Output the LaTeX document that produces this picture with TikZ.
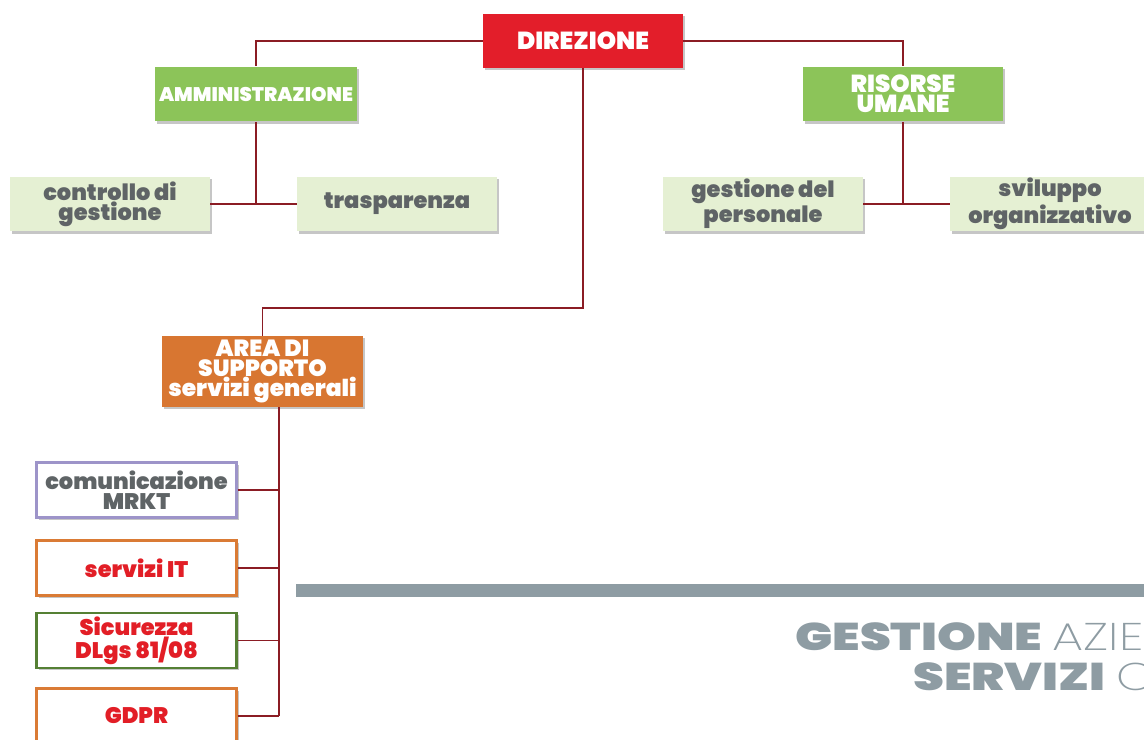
\documentclass[tikz,border=0pt]{standalone}
\usepackage{fontspec}
\setmainfont{Poppins}
\newfontfamily\heavy{Poppins Black}
\newfontfamily\heavywide{Poppins Black}[FakeStretch=1.28]
\newfontfamily\thinwide{Poppins ExtraLight}[FakeStretch=1.28]
\usetikzlibrary{shadows}

\definecolor{dirred}{HTML}{E31E2A}
\definecolor{leafgreen}{HTML}{8CC459}
\definecolor{palegreen}{HTML}{E5F0D3}
\definecolor{areaorange}{HTML}{D87631}
\definecolor{linkred}{HTML}{8B1C24}
\definecolor{textgray}{HTML}{5F6466}
\definecolor{titlegray}{HTML}{8E9CA3}
\definecolor{mrktviolet}{HTML}{9D94C9}
\definecolor{itorange}{HTML}{DA7B35}
\definecolor{safegreen}{HTML}{558034}
\definecolor{alertred}{HTML}{E21E26}

\tikzset{
  box/.style={minimum width=4cm, minimum height=1.1cm, inner sep=1pt, align=center,
    font=\heavy\fontsize{12.8}{11.4}\selectfont,
    drop shadow={shadow xshift=1.2pt, shadow yshift=-1.2pt, opacity=0.45}},
  headbox/.style={box, fill=#1, text=white},
  unitbox/.style={box, fill=palegreen, text=textgray},
  staffbox/.style={box, fill=white, draw=#1, line width=1.4pt, text=alertred},
  link/.style={draw=linkred, line width=0.9pt}
}

\begin{document}
\begin{tikzpicture}[x=0.02cm, y=-0.02cm]
	\clip (0,0) rectangle (1144,740);
	
	\node[headbox=dirred, minimum height=1.08cm, font=\heavy\fontsize{14}{14}\selectfont] (dir) at (583,41) {DIREZIONE};
	\node[headbox=leafgreen, minimum width=4.04cm, font=\heavy\fontsize{11.2}{11.2}\selectfont] (amm) at (256,94) {AMMINISTRAZIONE};
	\node[headbox=leafgreen, font=\heavy\fontsize{14}{11.4}\selectfont] (ris) at (903,94) {RISORSE\\UMANE};
	
	\node[unitbox] (ctrl) at (110,204) {controllo di\\gestione};
	\node[unitbox] (trasp) at (397,204) {trasparenza};
	\node[unitbox] (gest) at (763,204) {gestione del\\personale};
	\node[unitbox] (svil) at (1050,204) {sviluppo\\organizzativo};
	
	\node[headbox=areaorange, minimum width=4.02cm, minimum height=1.42cm, font=\heavy\fontsize{13.3}{11.4}\selectfont] (area) at (262.5,371.5) {AREA DI\\SUPPORTO\\servizi generali};
	
	\node[staffbox=mrktviolet, text=textgray] (com) at (136.5,490) {comunicazione\\MRKT};
	\node[staffbox=itorange] (it) at (136.5,568) {servizi IT};
	\node[staffbox=safegreen] (sic) at (136.5,640.5) {Sicurezza\\DLgs 81/08};
	\node[staffbox=itorange] (gdpr) at (136.5,716) {GDPR};
	
	% connectors
	\draw[link] (dir.west) -| (amm.north);
	\draw[link] (dir.east) -| (ris.north);
	\draw[link] (amm.south) -- (amm.south |- ctrl.east);
	\draw[link] (ctrl.east) -- (trasp.west);
	\draw[link] (ris.south) -- (ris.south |- gest.east);
	\draw[link] (gest.east) -- (svil.west);
	
	\coordinate (bend) at (0,308);
	\coordinate (spine) at (279,0);
	\draw[link] (dir.south) |- (area.north |- bend) -- (area.north);
	\draw[link] (area.south -| spine) -- (gdpr.east -| spine);
	\foreach \s in {com, it, sic, gdpr}
		\draw[link] (\s.east) -- (\s.east -| spine);
	
	% title
	\fill[titlegray] (296,584) rectangle (1144,597);
	\node[anchor=base west, inner sep=0pt, text=titlegray, font=\fontsize{22}{22}\selectfont] (title1) at (795,650) {{\heavywide GESTIONE} {\thinwide AZIE}};
	\node[anchor=base west, inner sep=0pt, text=titlegray, font=\fontsize{22}{22}\selectfont] (title2) at (913,690) {{\heavywide SERVIZI} {\thinwide C}};
\end{tikzpicture}
\end{document}
